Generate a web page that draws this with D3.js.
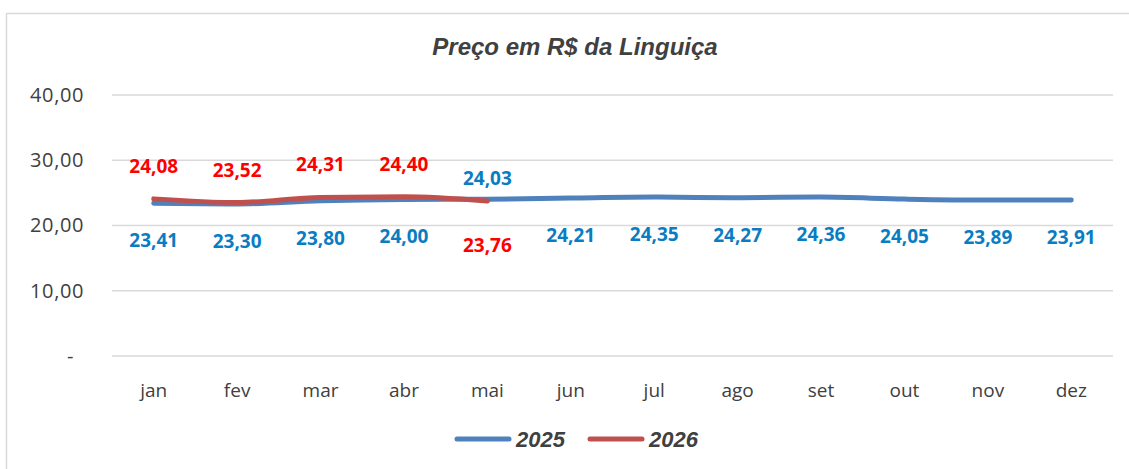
<!DOCTYPE html>
<html>
<head>
<meta charset="utf-8">
<script src="https://cdn.jsdelivr.net/npm/d3@7"></script>
<style>
  body { margin: 0; background: #fff; }
  svg { display: block; }
</style>
</head>
<body>
<svg id="svg1" width="1129" height="469"></svg>
<script>
// dados
var months = ['jan', 'fev', 'mar', 'abr', 'mai', 'jun', 'jul', 'ago', 'set', 'out', 'nov', 'dez'];
var values2025 = [23.41, 23.30, 23.80, 24.00, 24.03, 24.21, 24.35, 24.27, 24.36, 24.05, 23.89, 23.91];
var values2026 = [24.08, 23.52, 24.31, 24.40, 23.76];
var yTicks = [0, 10, 20, 30, 40];
var seriesNames = ['2025', '2026'];

var svg = d3.select('#svg1');
var width = 1129, height = 469;

var plotLeft = 112, plotRight = 1113;
var plotTop = 95, plotBottom = 356;

var br = d3.formatLocale({decimal: ',', thousands: '.', grouping: [3], currency: ['R$', '']});
var fmt = br.format(',.2f');

// moldura
svg.append('rect')
    .attr('x', 6.5).attr('y', 13.5)
    .attr('width', width + 10).attr('height', height + 10)
    .attr('fill', 'none')
    .attr('stroke', '#d9d9d9')
    .attr('stroke-width', 1.5);

var scaleX = d3.scaleBand().domain(months).range([plotLeft, plotRight]);
var scaleY = d3.scaleLinear().domain([0, 40]).range([plotBottom, plotTop]);

// grade
svg.append('g')
    .selectAll('line')
    .data(yTicks)
    .enter()
    .append('line')
    .attr('x1', plotLeft).attr('x2', plotRight)
    .attr('y1', function(d){ return scaleY(d); })
    .attr('y2', function(d){ return scaleY(d); })
    .attr('stroke', '#d9d9d9')
    .attr('stroke-width', 1.5);

// eixo y
var yAxis = svg.append('g')
    .attr('transform', 'translate(84,0)')
    .call(d3.axisLeft(scaleY).tickValues(yTicks).tickSize(0).tickPadding(0)
        .tickFormat(function(d){ return d === 0 ? '-' : fmt(d); }));
yAxis.select('.domain').remove();
yAxis.selectAll('text')
    .attr('font-family', 'Open Sans, sans-serif')
    .attr('font-size', 20)
    .attr('letter-spacing', 0.6)
    .attr('fill', '#404040')
    .attr('dx', function(d){ return d === 0 ? -10 : 0; });

// eixo x
var xAxis = svg.append('g')
    .attr('transform', 'translate(0,' + plotBottom + ')')
    .call(d3.axisBottom(scaleX).tickSize(0).tickPadding(28));
xAxis.select('.domain').remove();
xAxis.selectAll('text')
    .attr('font-family', 'Open Sans, sans-serif')
    .attr('font-size', 19)
    .attr('fill', '#404040');

function cx(i){ return scaleX(months[i]) + scaleX.bandwidth() / 2; }

var line = d3.line()
    .x(function(d, i){ return cx(i); })
    .y(function(d){ return scaleY(d); })
    .curve(d3.curveMonotoneX);

svg.append('path')
    .datum(values2025)
    .attr('d', line)
    .attr('fill', 'none')
    .attr('stroke', '#4f81bd')
    .attr('stroke-width', 5)
    .attr('stroke-linecap', 'round')
    .attr('stroke-linejoin', 'round');

svg.append('path')
    .datum(values2026)
    .attr('d', line)
    .attr('fill', 'none')
    .attr('stroke', '#c0504d')
    .attr('stroke-width', 5)
    .attr('stroke-linecap', 'round')
    .attr('stroke-linejoin', 'round');

// rótulos
svg.append('g')
    .selectAll('text')
    .data(values2025)
    .enter()
    .append('text')
    .attr('x', function(d, i){ return cx(i); })
    .attr('y', function(d, i){ return scaleY(d) + (i === 4 ? -14 : 44); })
    .attr('text-anchor', 'middle')
    .attr('font-family', 'Open Sans, sans-serif')
    .attr('font-weight', 'bold')
    .attr('font-size', 19)
    .attr('fill', '#0a7dc2')
    .text(function(d){ return fmt(d); });

svg.append('g')
    .selectAll('text')
    .data(values2026)
    .enter()
    .append('text')
    .attr('x', function(d, i){ return cx(i); })
    .attr('y', function(d, i){ return scaleY(d) + (i === 4 ? 51 : -26); })
    .attr('text-anchor', 'middle')
    .attr('font-family', 'Open Sans, sans-serif')
    .attr('font-weight', 'bold')
    .attr('font-size', 19)
    .attr('fill', '#ff0000')
    .text(function(d){ return fmt(d); });

// título
svg.append('text')
    .attr('x', 575).attr('y', 55)
    .attr('text-anchor', 'middle')
    .attr('font-family', 'Liberation Sans, Arial, sans-serif')
    .attr('font-weight', 'bold')
    .attr('font-style', 'italic')
    .attr('font-size', 24)
    .attr('fill', '#404040')
    .text('Preço em R$ da Linguiça');

// legenda
var legendColors = ['#4f81bd', '#c0504d'];
var legend = svg.append('g')
    .selectAll('g')
    .data(seriesNames)
    .enter()
    .append('g')
    .attr('transform', function(d, i){ return 'translate(' + (457 + i * 133) + ',439)'; });
legend.append('line')
    .attr('x1', 0).attr('x2', 52)
    .attr('stroke', function(d, i){ return legendColors[i]; })
    .attr('stroke-width', 5)
    .attr('stroke-linecap', 'round');
legend.append('text')
    .attr('x', 59).attr('y', 8)
    .attr('font-family', 'Liberation Sans, Arial, sans-serif')
    .attr('font-weight', 'bold')
    .attr('font-style', 'italic')
    .attr('font-size', 22)
    .attr('fill', '#404040')
    .text(function(d){ return d; });
</script>
</body>
</html>
